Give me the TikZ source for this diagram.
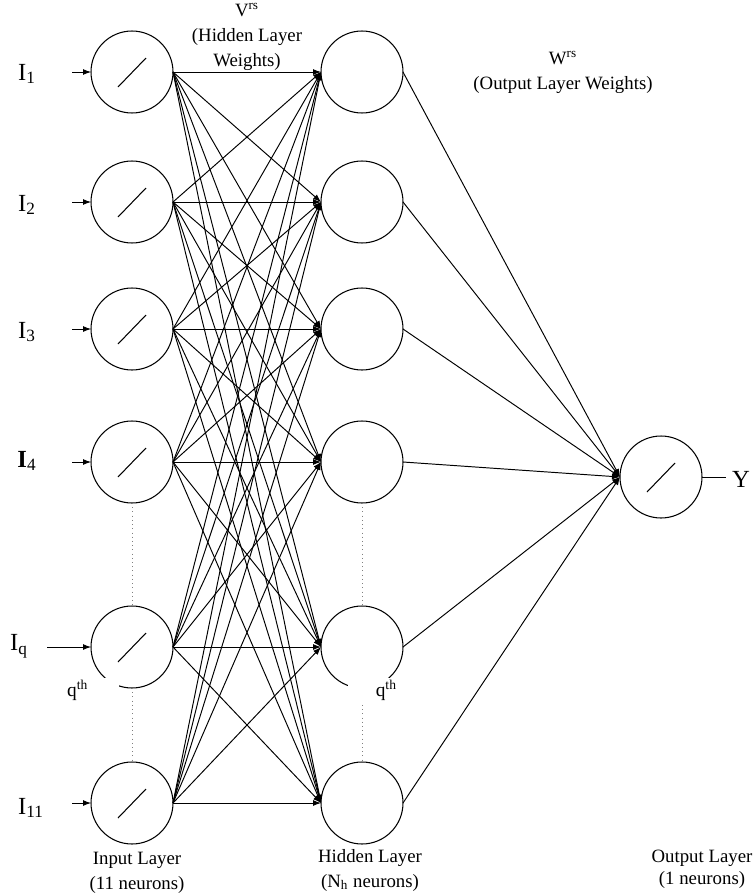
\documentclass[tikz,border=0pt]{standalone}
\usepackage{fontspec}
\setmainfont{Liberation Serif}
\usetikzlibrary{arrows.meta,positioning,calc}

\begin{document}
\begin{tikzpicture}[x=0.02cm,y=-0.02cm,
  every node/.style={font=\fontsize{10.7}{14.2}\selectfont},
  neuron/.style={circle,draw,line width=0.6pt,minimum size=1.64cm,inner sep=0pt,outer sep=0pt},
  arr/.style={-{Latex[length=1.6mm,width=1.2mm]},line width=0.55pt},
  inlbl/.style={font=\fontsize{14}{16}\selectfont},
  qlbl/.style={fill=white,inner sep=1pt,font=\fontsize{11}{12}\selectfont}]
\useasboundingbox (0,0) rectangle (752,896);
% input and hidden layers
\foreach \n/\y in {1/72,2/202,3/329,4/462,q/647,11/803}{
  \node[neuron] (i\n) at (132,\y) {};
  \draw[line width=0.6pt] ($(i\n)+(-14,15)$) -- ($(i\n)+(14,-14)$);
  \node[neuron] (h\n) at (362,\y) {};
}
\foreach \n/\y/\s in {1/72/72,2/202/72,3/329/72,4/462/72,q/647/47,11/803/72}{
  \coordinate (s\n) at (\s,\y);
  \draw[arr] (s\n) -- (i\n.west);
}
\node[inlbl] (l1) at (27,74) {I\textsubscript{1}};
\node[inlbl] (l2) at (27,205) {I\textsubscript{2}};
\node[inlbl] (l3) at (27,332) {I\textsubscript{3}};
\node[inlbl] (l4) at (27,461) {\textbf{I}\textsubscript{4}};
\node[inlbl] (lq) at (19,646) {I\textsubscript{q}};
\node[inlbl] (l11) at (31,808) {I\textsubscript{11}};
% hidden layer weights
\foreach \a in {1,2,3,4,q,11}{
  \foreach \b in {1,2,3,4,q,11}{
    \draw[arr] (i\a.east) -- (h\b.west);
  }
}
% output layer
\node[neuron] (o) at (661,477) {};
\draw[line width=0.6pt] ($(o)+(-14,15)$) -- ($(o)+(14,-14)$);
\foreach \b in {1,2,3,4,q,11}{
  \draw[arr] (h\b.east) -- (o.west);
}
\coordinate (yend) at (726,477);
\draw[line width=0.5pt] (o.east) -- (yend);
\node[inlbl,anchor=west,inner sep=1pt] (ylbl) at (730,479) {Y};
% skipped neurons
\draw[dotted,gray] (i4.south) -- (iq.north);
\draw[dotted,gray] (iq.south) -- (i11.north);
\draw[dotted,gray] (h4.south) -- (hq.north);
\draw[dotted,gray] (hq.south) -- (h11.north);
\node[qlbl,anchor=west,text width=1.0cm,align=left] (qin) at (65,690) {q\textsuperscript{th}};
\node[qlbl,anchor=east,text width=0.94cm,align=right] (qhid) at (399,690) {q\textsuperscript{th}};
% layer captions
\node[align=center] (vcap) at (247,37) {V\textsuperscript{rs}\\(Hidden Layer\\Weights)};
\node[align=center] (wcap) at (563,72) {W\textsuperscript{rs}\\(Output Layer Weights)};
\node[align=center] (incap) at (137,873) {Input Layer\\(11 neurons)};
\node[align=center] (hidcap) at (370,870) {Hidden Layer\\(N\textsubscript{h} neurons)};
\node[align=center,font=\fontsize{10.7}{12.5}\selectfont] (outcap) at (702,869) {Output Layer\\(1 neurons)};
\end{tikzpicture}
\end{document}
